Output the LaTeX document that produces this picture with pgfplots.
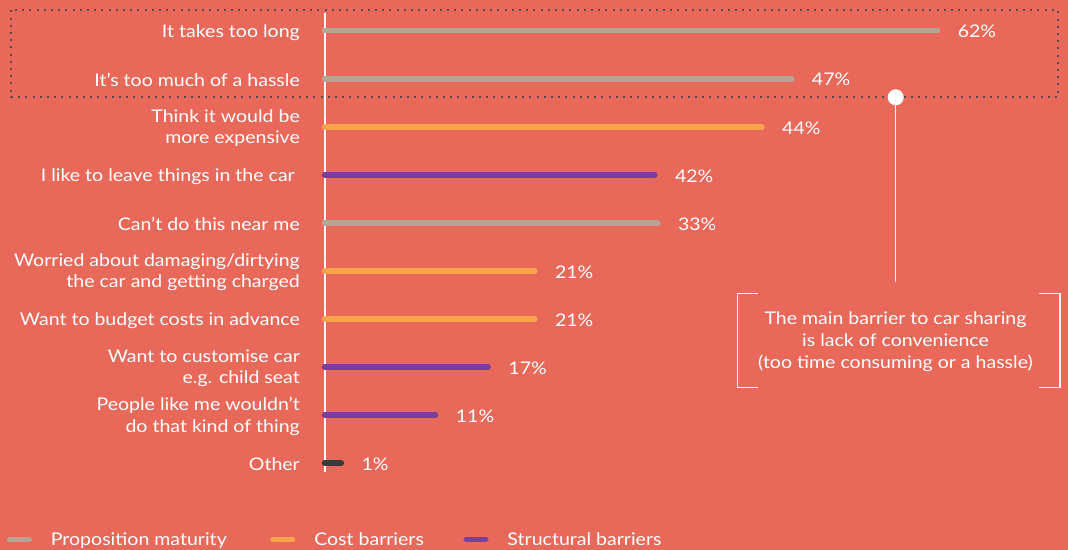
\documentclass[border=0pt]{standalone}
\usepackage{fontspec}
\setmainfont{Lato}[FakeStretch=1.12]
\usepackage{pgfplots}
\pgfplotsset{compat=1.18}
\usepackage{pgfplotstable}
\definecolor{bgc}{HTML}{E8695A}
\definecolor{propgray}{HTML}{B4A693}
\definecolor{costorange}{HTML}{F9A34D}
\definecolor{structpurple}{HTML}{7A3F9B}
\definecolor{otherdark}{HTML}{3A3A3A}
\definecolor{dotgray}{HTML}{5A4A47}

% len = drawn bar length, lab = printed percentage
\pgfplotstableread{
y len lab
0 61.8 62
1 47.1 47
4 33.6 33
}\propdata
\pgfplotstableread{
y len lab
2 44.1 44
5 21.2 21
6 21.2 21
}\costdata
\pgfplotstableread{
y len lab
3 33.3 42
7 16.5 17
8 11.2 11
}\structdata
\pgfplotstableread{
y len lab
9 1.7 1
}\otherdata

\newcommand{\lf}{\fontsize{17.5}{21.6}\selectfont}

\begin{document}
\begin{tikzpicture}
\useasboundingbox (0,0) rectangle (1068bp,-550bp);
\fill[bgc] (0,0) rectangle (1068bp,-550bp);
\draw[dotgray, line width=2bp, dash pattern=on 2bp off 5.2bp] (11bp,-10.3bp) rectangle (1058bp,-96.7bp);
\draw[white, line width=2bp] (324.5bp,-13bp) -- (324.5bp,-472bp);
\begin{axis}[
  at={(324.5bp,-6.7bp)}, anchor=north west,
  x=9.92bp, y=48.03bp, y dir=reverse,
  xmin=0, xmax=74, ymin=-0.5, ymax=9.5,
  axis line style={draw=none}, major tick length=0pt,
  xtick=\empty, ytick={0,...,9},
  yticklabels={{It takes too long},{It’s too much of a hassle},{Think it would be\\more expensive},{I like to leave things in the car\hspace*{5bp}},{Can’t do this near me},{Worried about damaging/dirtying\\the car and getting charged},{Want to budget costs in advance},{Want to customise car\\e.g. child seat},{People like me wouldn’t\\do that kind of thing},{Other}},
  yticklabel style={font=\lf, text=white, align=right, inner sep=0pt, xshift=-24.5bp, yshift=-1.5bp},
  every axis plot/.append style={xcomb, line width=5.5bp, line cap=round},
  nodes near coords={\pgfplotspointmeta\%},
  point meta=explicit symbolic,
  every node near coord/.append style={font=\lf, text=white, anchor=west, inner sep=0pt, xshift=17.5bp, yshift=-1bp},
  clip=false,
  legend columns=3,
  legend image code/.code={\draw[line width=5.5bp, line cap=round] (0bp,0bp) -- (19.5bp,0bp);},
  legend style={at={(-0.437,-0.1093)}, anchor=west, draw=none, fill=none, font=\lf, text=white,
    nodes={inner sep=0pt},
    /tikz/every odd column/.append style={column sep=19bp},
    /tikz/every even column/.append style={column sep=39.5bp}},
]
\addplot[propgray] table[x=len, y=y, meta=lab] {\propdata};
\addlegendentry{Proposition maturity\hspace*{4bp}}
\addplot[costorange] table[x=len, y=y, meta=lab] {\costdata};
\addlegendentry{Cost barriers}
\addplot[structpurple] table[x=len, y=y, meta=lab] {\structdata};
\addlegendentry{Structural barriers}
\addplot[otherdark, forget plot] table[x=len, y=y, meta=lab] {\otherdata};
\end{axis}
\fill[white] (895.7bp,-97.3bp) circle (8bp);
\draw[white!92!bgc, line width=1.5bp] (895.7bp,-97.3bp) -- (895.7bp,-281.7bp);
\draw[white!92!bgc, line width=1.5bp] (758.3bp,-293.3bp) -- (737.3bp,-293.3bp) -- (737.3bp,-387.3bp) -- (758.3bp,-387.3bp);
\draw[white!92!bgc, line width=1.5bp] (1039.3bp,-293.3bp) -- (1060bp,-293.3bp) -- (1060bp,-387.3bp) -- (1039.3bp,-387.3bp);
\node[font=\fontsize{17.5}{22}\selectfont, text=white, align=center] at (895.5bp,-341.5bp) {The main barrier to car sharing\\is lack of convenience\\(too time consuming or a hassle)};
\end{tikzpicture}
\end{document}
